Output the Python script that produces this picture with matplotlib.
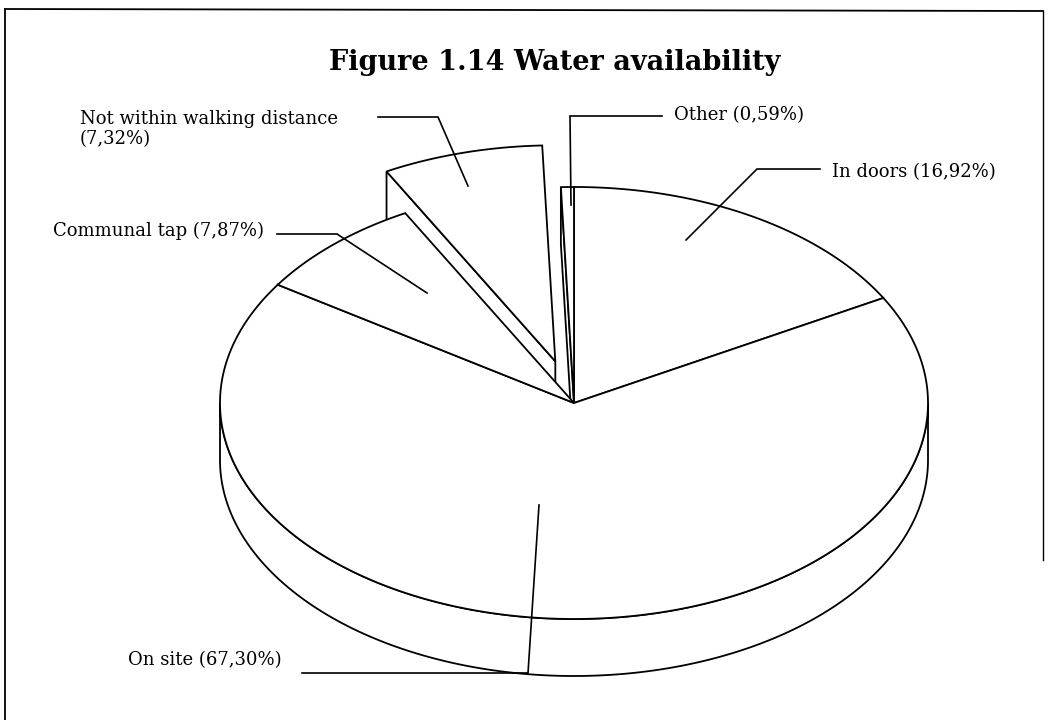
import numpy as np
import matplotlib
matplotlib.use("Agg")
import matplotlib.pyplot as plt
from matplotlib.patches import Polygon

# ---------------- data ----------------
title = "Figure 1.14 Water availability"
categories = ["In doors", "On site", "Communal tap", "Not within walking distance", "Other"]
values = [16.92, 67.30, 7.87, 7.32, 0.59]
label_texts = ["In doors (16,92%)", "On site (67,30%)", "Communal tap (7,87%)",
               "Not within walking distance\n(7,32%)", "Other (0,59%)"]
explode = [0.0, 0.0, 0.0, 0.2, 0.0]

# ---------------- layout ----------------
W, H = 1048, 720
cx, cy, rx, ry, depth = 574, 403, 354, 216, 57
LW = 1.3
serif = ["DejaVu Serif"]
LABEL_FS = 13.0
TITLE_FS = 19.5

# label text anchor (x, y, horizontal alignment) and leader polylines (pixel coords)
label_pos = [(832, 172, "left"), (128, 660, "left"), (264, 231, "right"),
             (80, 129, "left"), (674, 115, "left")]
leaders = [
    [(820, 169), (757, 169), (686, 240)],
    [(302, 673), (528, 673), (539, 505)],
    [(277, 234), (337, 234), (427, 293)],
    [(378, 117), (438, 117), (468, 186)],
    [(662, 116), (570, 116), (571, 205)],
]

fig = plt.figure(figsize=(W / 100, H / 100), dpi=100)
ax = fig.add_axes([0, 0, 1, 1])
ax.set_xlim(0, W)
ax.set_ylim(H, 0)
ax.axis("off")


def pt(theta, off=(0.0, 0.0), dz=0.0):
    t = np.radians(theta)
    return (cx + off[0] + rx * np.sin(t), cy + off[1] - ry * np.cos(t) + dz)


def arc(t0, t1, off, dz=0.0):
    n = max(2, int(abs(t1 - t0) * 2) + 2)
    return [pt(t, off, dz) for t in np.linspace(t0, t1, n)]


total = float(sum(values))
bounds = np.concatenate([[0.0], np.cumsum(values) / total * 360.0])

walls = []
tops = []
for i, v in enumerate(values):
    s, e = bounds[i], bounds[i + 1]
    m = np.radians((s + e) / 2)
    off = (explode[i] * rx * np.sin(m), -explode[i] * ry * np.cos(m))
    vx, vy = cx + off[0], cy + off[1]
    if np.sin(np.radians(s)) < -1e-9:
        p = pt(s, off)
        walls.append(((vy + p[1]) / 2,
                      [(vx, vy), p, (p[0], p[1] + depth), (vx, vy + depth)]))
    if np.sin(np.radians(e)) > 1e-9:
        p = pt(e, off)
        walls.append(((vy + p[1]) / 2,
                      [(vx, vy), p, (p[0], p[1] + depth), (vx, vy + depth)]))
    a0, a1 = max(s, 90.0), min(e, 270.0)
    if a1 > a0:
        walls.append((cy + ry + 1000, arc(a0, a1, off) + arc(a1, a0, off, depth)))
    tops.append([(vx, vy)] + arc(s, e, off))

for key, poly in sorted(walls, key=lambda k: k[0]):
    ax.add_patch(Polygon(poly, closed=True, facecolor="white", edgecolor="black",
                         linewidth=LW, joinstyle="miter", zorder=2))
for poly in tops:
    ax.add_patch(Polygon(poly, closed=True, facecolor="white", edgecolor="black",
                         linewidth=LW, joinstyle="miter", zorder=3))

for txt, (lx, ly, ha), ld in zip(label_texts, label_pos, leaders):
    xs, ys = zip(*ld)
    ax.plot(xs, ys, color="black", lw=1.2, zorder=5, solid_joinstyle="miter")
    ax.text(lx, ly, txt, ha=ha, va="center", fontsize=LABEL_FS, family=serif,
            color="black", linespacing=1.1, zorder=6)

ax.text(555, 63, title, ha="center", va="center", fontsize=TITLE_FS, fontweight="bold",
        family=serif, color="black")

# frame
ax.plot([5, 5], [9, H + 5], color="black", lw=1.3)
ax.plot([5, 1043], [9, 11], color="black", lw=1.3)
ax.plot([1043, 1043], [11, 560], color="black", lw=1.0)

fig.savefig("out.png", dpi=100, facecolor="white")
